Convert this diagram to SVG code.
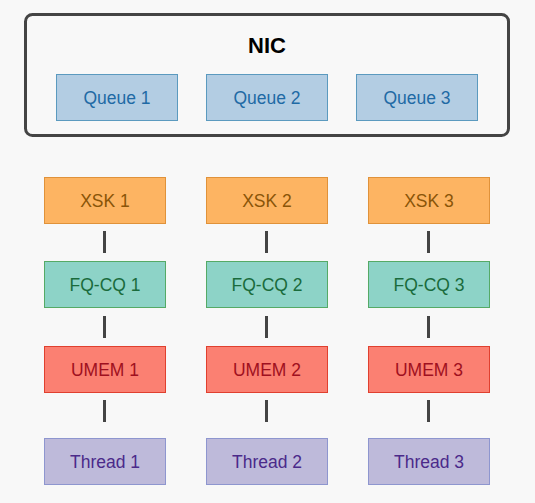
<svg xmlns="http://www.w3.org/2000/svg" width="535" height="503" viewBox="0 0 535 503">
<style>
text{font-family:"Liberation Sans",Arial,sans-serif;font-size:17.5px;text-anchor:middle;dominant-baseline:central}
.q rect{fill:#b3cde3;stroke:#5b9abf;stroke-width:1}
.q text{fill:#1f6aa5}
.x rect{fill:#fdb462;stroke:#e0923a;stroke-width:1}
.x text{fill:#8a5508}
.f rect{fill:#8dd3c7;stroke:#55aa66;stroke-width:1}
.f text{fill:#1a6b3c}
.u rect{fill:#fb8072;stroke:#e0402f;stroke-width:1}
.u text{fill:#a01020}
.t rect{fill:#bebada;stroke:#8e96cf;stroke-width:1}
.t text{fill:#4b2a8a}
.c line{stroke:#444;stroke-width:3}
</style>
<rect width="535" height="503" fill="#f8f8f8"/>
<g id="nic">
<rect x="25.5" y="14.5" width="483" height="121" rx="7" fill="#f8f8f8" stroke="#444" stroke-width="3"/>
<text x="267" y="45" style="font-size:22px;font-weight:bold;fill:#000">NIC</text>
</g>
<g id="queue1" class="q"><rect x="56.5" y="74.5" width="121" height="46"/><text x="117" y="97.5">Queue 1</text></g>
<g id="queue2" class="q"><rect x="206.5" y="74.5" width="121" height="46"/><text x="267" y="97.5">Queue 2</text></g>
<g id="queue3" class="q"><rect x="356.5" y="74.5" width="121" height="46"/><text x="417" y="97.5">Queue 3</text></g>
<g class="c" id="connectors">
<line x1="104.5" y1="231" x2="104.5" y2="253"/>
<line x1="266.5" y1="231" x2="266.5" y2="253"/>
<line x1="428.5" y1="231" x2="428.5" y2="253"/>
<line x1="104.5" y1="316" x2="104.5" y2="338"/>
<line x1="266.5" y1="316" x2="266.5" y2="338"/>
<line x1="428.5" y1="316" x2="428.5" y2="338"/>
<line x1="104.5" y1="400" x2="104.5" y2="422"/>
<line x1="266.5" y1="400" x2="266.5" y2="422"/>
<line x1="428.5" y1="400" x2="428.5" y2="422"/>
</g>
<g id="xsk1" class="x"><rect x="44.5" y="177.5" width="121" height="46"/><text x="105" y="200.5">XSK 1</text></g>
<g id="xsk2" class="x"><rect x="206.5" y="177.5" width="121" height="46"/><text x="267" y="200.5">XSK 2</text></g>
<g id="xsk3" class="x"><rect x="368.5" y="177.5" width="121" height="46"/><text x="429" y="200.5">XSK 3</text></g>
<g id="fq1" class="f"><rect x="44.5" y="261.5" width="121" height="46"/><text x="105" y="284.5">FQ-CQ 1</text></g>
<g id="fq2" class="f"><rect x="206.5" y="261.5" width="121" height="46"/><text x="267" y="284.5">FQ-CQ 2</text></g>
<g id="fq3" class="f"><rect x="368.5" y="261.5" width="121" height="46"/><text x="429" y="284.5">FQ-CQ 3</text></g>
<g id="umem1" class="u"><rect x="44.5" y="346.5" width="121" height="46"/><text x="105" y="369.5">UMEM 1</text></g>
<g id="umem2" class="u"><rect x="206.5" y="346.5" width="121" height="46"/><text x="267" y="369.5">UMEM 2</text></g>
<g id="umem3" class="u"><rect x="368.5" y="346.5" width="121" height="46"/><text x="429" y="369.5">UMEM 3</text></g>
<g id="thread1" class="t"><rect x="44.5" y="438.5" width="121" height="46"/><text x="105" y="461.5">Thread 1</text></g>
<g id="thread2" class="t"><rect x="206.5" y="438.5" width="121" height="46"/><text x="267" y="461.5">Thread 2</text></g>
<g id="thread3" class="t"><rect x="368.5" y="438.5" width="121" height="46"/><text x="429" y="461.5">Thread 3</text></g>
</svg>
